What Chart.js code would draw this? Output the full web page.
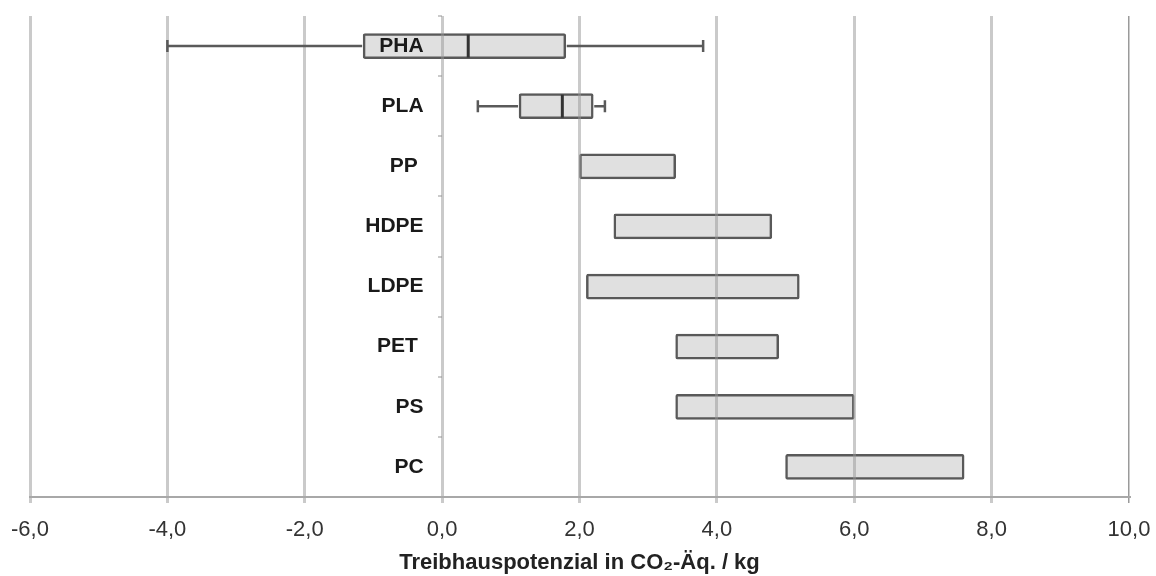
<!DOCTYPE html>
<html>
<head>
<meta charset="utf-8">
<script src="https://cdn.jsdelivr.net/npm/chart.js@4"></script>
<style>
  html, body { margin: 0; padding: 0; background: #ffffff; }
  #wrap { width: 1156px; height: 576px; position: relative; }
</style>
</head>
<body>
<div id="wrap"><canvas id="c" width="1156" height="576"></canvas></div>
<script>
// ---- data ----
const categories  = ['PHA', 'PLA', 'PP ', 'HDPE', 'LDPE', 'PET ', 'PS', 'PC'];
const boxLow      = [-1.15, 1.12, 2.0, 2.5, 2.1, 3.4, 3.4, 5.0];
const boxHigh     = [1.8, 2.2, 3.4, 4.8, 5.2, 4.9, 6.0, 7.6];
const medians     = [0.38, 1.75, null, null, null, null, null, null];
const whiskerLow  = [-4.0, 0.52, null, null, null, null, null, null];
const whiskerHigh = [3.8, 2.37, null, null, null, null, null, null];
const xTicks      = [-6, -4, -2, 0, 2, 4, 6, 8, 10];
const xTitle      = 'Treibhauspotenzial in CO\u2082-Äq. / kg';

const boxData = categories.map((c, i) => [boxLow[i], boxHigh[i]]);

const whiskerPlugin = {
  id: 'whiskers',
  afterDraw(chart) {
    const ctx = chart.ctx;
    const xs = chart.scales.x, ys = chart.scales.y;
    ctx.save();
    ctx.lineCap = 'butt';
    categories.forEach((c, i) => {
      const yc = ys.getPixelForValue(i);
      if (whiskerLow[i] !== null) {
        ctx.strokeStyle = '#5a5a5a';
        ctx.lineWidth = 2.5;
        const a = xs.getPixelForValue(whiskerLow[i]);
        const b = xs.getPixelForValue(boxLow[i]);
        const d = xs.getPixelForValue(boxHigh[i]);
        const e = xs.getPixelForValue(whiskerHigh[i]);
        ctx.beginPath();
        ctx.moveTo(a, yc); ctx.lineTo(b - 1, yc);
        ctx.moveTo(d + 1, yc); ctx.lineTo(e, yc);
        ctx.stroke();
        ctx.beginPath();
        ctx.moveTo(a, yc - 6); ctx.lineTo(a, yc + 6);
        ctx.moveTo(e, yc - 6); ctx.lineTo(e, yc + 6);
        ctx.stroke();
      }
      if (medians[i] !== null) {
        const m = xs.getPixelForValue(medians[i]);
        ctx.strokeStyle = '#333333';
        ctx.lineWidth = 3;
        ctx.beginPath();
        ctx.moveTo(m, yc - 11.5); ctx.lineTo(m, yc + 11.5);
        ctx.stroke();
      }
    });
    ctx.restore();
  }
};

const gridGray = 'rgba(150,150,150,0.5)';
const noPad = scale => {
  scale.paddingTop = 0; scale.paddingBottom = 0;
  scale.paddingLeft = 0; scale.paddingRight = 0;
};

new Chart(document.getElementById('c'), {
  type: 'bar',
  data: {
    labels: categories,
    datasets: [{
      data: boxData,
      yAxisID: 'y',
      backgroundColor: '#e0e0e0',
      borderColor: '#595959',
      borderWidth: 2.5,
      borderSkipped: false,
      borderRadius: 2,
      barThickness: 25
    }]
  },
  options: {
    indexAxis: 'y',
    responsive: false,
    animation: false,
    layout: { padding: { left: 30, right: 27, top: 16, bottom: 0 } },
    plugins: { legend: { display: false }, tooltip: { enabled: false } },
    scales: {
      x: {
        type: 'linear',
        min: -6, max: 10,
        afterBuildTicks(scale) { scale.ticks = xTicks.map(v => ({ value: v })); },
        afterFit(scale) { noPad(scale); scale.height = 79; },
        ticks: {
          padding: 14,
          maxRotation: 0,
          color: '#333333',
          font: { family: 'Liberation Sans', size: 22 },
          callback: v => v.toFixed(1).replace('.', ',')
        },
        grid: {
          z: 1,
          color: ctx => (ctx.tick && ctx.tick.value === 10) ? '#9a9a9a' : gridGray,
          lineWidth: ctx => (ctx.tick && ctx.tick.value === 10) ? 1.5 : 3,
          tickLength: 6,
          tickColor: ctx => (ctx.tick && ctx.tick.value === 10) ? '#9a9a9a' : gridGray
        },
        border: { display: true, color: '#a8a8a8', width: 2, z: 1 },
        title: {
          display: true,
          text: xTitle,
          color: '#222222',
          font: { family: 'Liberation Sans', size: 22, weight: 'bold' },
          padding: { top: 6, bottom: 0 }
        }
      },
      y: {
        type: 'category',
        position: { x: 0 },
        offset: true,
        afterFit: noPad,
        ticks: { display: false },
        grid: {
          drawOnChartArea: false,
          drawTicks: true,
          tickLength: 4,
          offset: true,
          color: gridGray,
          lineWidth: 2
        },
        border: { display: false }
      },
      yLabels: {
        type: 'category',
        axis: 'y',
        labels: categories,
        position: { x: -0.27 },
        offset: true,
        afterFit: noPad,
        ticks: {
          z: 2,
          padding: 0,
          color: '#1a1a1a',
          font: { family: 'Liberation Sans', size: 21, weight: 'bold' }
        },
        grid: { display: false, drawTicks: false, tickLength: 0 },
        border: { display: false }
      }
    }
  },
  plugins: [whiskerPlugin]
});
</script>
</body>
</html>
